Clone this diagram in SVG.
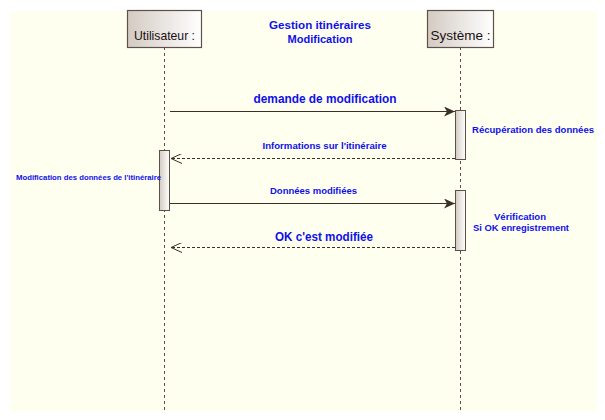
<svg xmlns="http://www.w3.org/2000/svg" width="605" height="420" viewBox="0 0 605 420">
<style>
.bg{fill:#fffff0}
.actor{fill:url(#g);stroke:#5e5047;stroke-width:1.2}
.act{fill:url(#g);stroke:#5e5047;stroke-width:1}
.life{stroke:#5e5047;stroke-width:1;stroke-dasharray:3,3;fill:none}
.msg{stroke:#3c2f28;stroke-width:1.2;fill:none}
.ret{stroke:#3c2f28;stroke-width:1;stroke-dasharray:3,2;fill:none}
.an{font-family:"Liberation Sans",Arial,sans-serif;font-size:13px;fill:#1a1010}
.t{font-family:"Liberation Sans",Arial,sans-serif;font-weight:bold;fill:#1010e8}
</style>
<defs>
<linearGradient id="g" x1="0" y1="0" x2="1" y2="0">
<stop offset="0" stop-color="#d3cbc3"/>
<stop offset="1" stop-color="#ffffff"/>
</linearGradient>
<marker id="fill" markerWidth="12" markerHeight="10" refX="11" refY="5" orient="auto" markerUnits="userSpaceOnUse">
<path d="M0,0 L11,5 L0,10 L3,5 Z" fill="#3c2f28"/>
</marker>
<marker id="open" markerWidth="12" markerHeight="10" refX="11" refY="5" orient="auto" markerUnits="userSpaceOnUse">
<path d="M0,0 L11,5 L0,10" fill="none" stroke="#3c2f28" stroke-width="1"/>
</marker>
</defs>
<rect class="bg" x="10" y="11" width="587" height="400"/>
<text class="t" font-size="11" x="320" y="29" text-anchor="middle" textLength="102" lengthAdjust="spacingAndGlyphs">Gestion itinéraires</text>
<text class="t" font-size="11" x="320" y="43" text-anchor="middle" textLength="65" lengthAdjust="spacingAndGlyphs">Modification</text>
<g id="utilisateur">
<line class="life" x1="164.5" y1="47" x2="164.5" y2="411"/>
<rect class="actor" x="127.5" y="10.5" width="74" height="37"/>
<text class="an" x="164.5" y="40" text-anchor="middle" textLength="61" lengthAdjust="spacingAndGlyphs">Utilisateur :</text>
<rect class="act" x="159.5" y="150.5" width="10" height="60"/>
<text class="t" font-size="8" x="16" y="180" textLength="145" lengthAdjust="spacingAndGlyphs">Modification des données de l'itinéraire</text>
</g>
<g id="systeme">
<line class="life" x1="460.5" y1="47" x2="460.5" y2="411"/>
<rect class="actor" x="427.5" y="10.5" width="66" height="37"/>
<text class="an" x="460.5" y="40" text-anchor="middle" textLength="60" lengthAdjust="spacingAndGlyphs">Système :</text>
<rect class="act" x="455.5" y="110.5" width="10" height="49"/>
<rect class="act" x="455.5" y="190.5" width="10" height="60"/>
<text class="t" font-size="9" x="472" y="133" textLength="122" lengthAdjust="spacingAndGlyphs">Récupération des données</text>
<text class="t" font-size="9" x="520" y="220" text-anchor="middle" textLength="52" lengthAdjust="spacingAndGlyphs">Vérification</text>
<text class="t" font-size="9" x="521" y="231" text-anchor="middle" textLength="96" lengthAdjust="spacingAndGlyphs">Si OK enregistrement</text>
</g>
<g id="connectors">
<line class="msg" x1="170" y1="111.5" x2="455" y2="111.5" marker-end="url(#fill)"/>
<text class="t" font-size="13" x="325" y="103" text-anchor="middle" textLength="143" lengthAdjust="spacingAndGlyphs">demande de modification</text>
<line class="ret" x1="455" y1="158.5" x2="171" y2="158.5" marker-end="url(#open)"/>
<text class="t" font-size="9.5" x="324.5" y="149" text-anchor="middle" textLength="124" lengthAdjust="spacingAndGlyphs">Informations sur l'itinéraire</text>
<line class="msg" x1="170" y1="203.5" x2="455" y2="203.5" marker-end="url(#fill)"/>
<text class="t" font-size="9.5" x="313.5" y="194" text-anchor="middle" textLength="87" lengthAdjust="spacingAndGlyphs">Données modifiées</text>
<line class="ret" x1="455" y1="247.5" x2="171" y2="247.5" marker-end="url(#open)"/>
<text class="t" font-size="13" x="324" y="241" text-anchor="middle" textLength="98" lengthAdjust="spacingAndGlyphs">OK c'est modifiée</text>
</g>
</svg>
